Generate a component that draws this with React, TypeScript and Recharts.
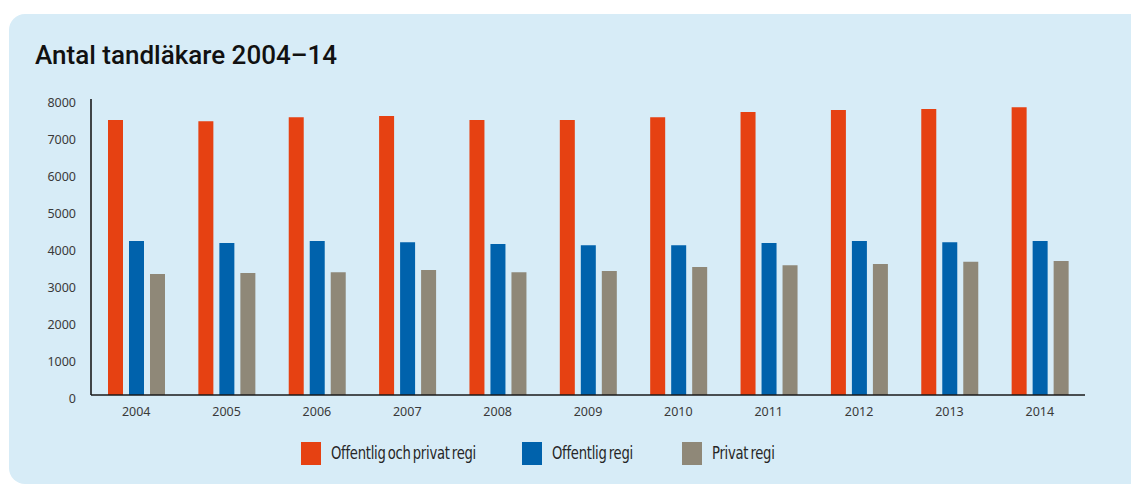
import React from 'react';
import { BarChart, Bar, XAxis, YAxis } from 'recharts';

// Antal tandläkare per år och regi
const years = ['2004', '2005', '2006', '2007', '2008', '2009', '2010', '2011', '2012', '2013', '2014'];
const totalValues = [7430, 7400, 7510, 7540, 7430, 7430, 7510, 7650, 7700, 7730, 7780];
const publicValues = [4160, 4110, 4160, 4130, 4080, 4050, 4050, 4110, 4160, 4130, 4160];
const privateValues = [3270, 3300, 3320, 3380, 3320, 3350, 3460, 3510, 3540, 3600, 3620];
const yTicks = [0, 1000, 2000, 3000, 4000, 5000, 6000, 7000, 8000];

const seriesNames = ['Offentlig och privat regi', 'Offentlig regi', 'Privat regi'];
const seriesKeys = ['total', 'offentlig', 'privat'];
const seriesColors = ['#E64112', '#0062AC', '#8F8878'];

const data = years.map((year, i) => ({
  year,
  total: totalValues[i],
  offentlig: publicValues[i],
  privat: privateValues[i],
}));

const tickFont = '"Noto Sans", "DejaVu Sans", sans-serif';

const YTick = (props: any) => {
  const { x, y, payload } = props;
  return (
    <text x={x - 7} y={y + 8} textAnchor="end" fontSize={12.5} fill="#3a3a3a" fontFamily={tickFont}>
      {payload.value}
    </text>
  );
};

const XTick = (props: any) => {
  const { x, y, payload } = props;
  return (
    <text x={x} y={y + 13} textAnchor="middle" fontSize={12.5} fill="#3a3a3a" fontFamily={tickFont}>
      {payload.value}
    </text>
  );
};

const legendX = [301, 522, 682];

export default function App() {
  return (
    <div style={{ position: 'absolute', left: 0, top: 0, width: 1131, height: 486, background: '#ffffff', overflow: 'hidden' }}>
      <div
        style={{
          position: 'absolute',
          left: 9,
          top: 14,
          width: 1160,
          height: 470,
          borderRadius: 16,
          background: '#D7ECF7',
        }}
      />
      <div
        style={{
          position: 'absolute',
          left: 35,
          top: 37,
          fontFamily: 'Roboto, "Noto Sans", sans-serif',
          fontWeight: 500,
          fontSize: 26,
          color: '#111111',
          whiteSpace: 'nowrap',
          lineHeight: '36px',
        }}
      >
        Antal tandläkare 2004–14
      </div>
      <div style={{ position: 'absolute', left: 0, top: 0 }}>
        <BarChart
          width={1131}
          height={486}
          data={data}
          margin={{ top: 99, right: 46, bottom: 61, left: 31 }}
          barSize={15}
          barGap={6}
        >
          <XAxis
            dataKey="year"
            height={30}
            tickLine={false}
            axisLine={{ stroke: '#1a1a1a', strokeWidth: 1.6 }}
            tick={<XTick />}
            interval={0}
          />
          <YAxis
            width={60}
            domain={[0, 8000]}
            ticks={yTicks}
            tickLine={false}
            axisLine={{ stroke: '#1a1a1a', strokeWidth: 1.6 }}
            tick={<YTick />}
            interval={0}
          />
          {seriesKeys.map((key, i) => (
            <Bar key={key} dataKey={key} name={seriesNames[i]} fill={seriesColors[i]} isAnimationActive={false} />
          ))}
        </BarChart>
      </div>
      {seriesNames.map((name, i) => (
        <div key={name} style={{ position: 'absolute', left: legendX[i], top: 442, width: 220, height: 23 }}>
          <div style={{ position: 'absolute', left: 0, top: 0, width: 20, height: 23, background: seriesColors[i] }} />
          <span
            style={{
              position: 'absolute',
              left: 30,
              top: 0,
              display: 'inline-block',
              transform: 'scaleX(0.86)',
              transformOrigin: '0 50%',
              fontFamily: '"Liberation Sans Narrow", "DejaVu Sans Condensed", sans-serif',
              fontSize: 17,
              lineHeight: '23px',
              letterSpacing: -0.3,
              wordSpacing: -2,
              color: '#262626',
              whiteSpace: 'nowrap',
            }}
          >
            {name}
          </span>
        </div>
      ))}
    </div>
  );
}
